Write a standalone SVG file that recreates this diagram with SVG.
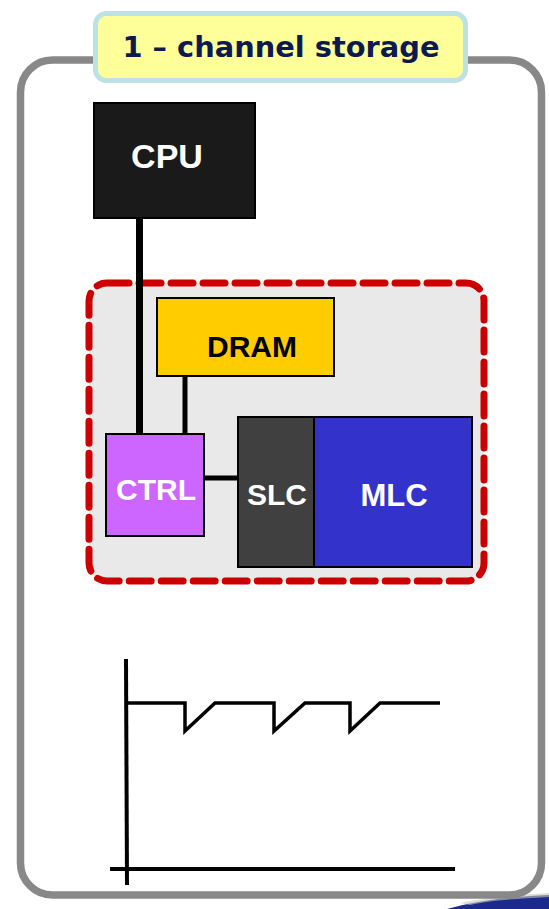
<svg xmlns="http://www.w3.org/2000/svg" width="549" height="909" viewBox="0 0 549 909">
<style>
.box{stroke:#000;stroke-width:2}
.lbl{font-family:"Liberation Sans",Arial,sans-serif;font-weight:bold;text-anchor:middle}
.wire{stroke:#000;fill:none;stroke-linecap:butt}
.plot{stroke:#000;fill:none;stroke-width:3.5;stroke-linejoin:miter}
</style>
<rect width="549" height="909" fill="#ffffff"/>
<path d="M447 909 C480 900 510 897 549 895 L549 909 Z" fill="#1c2a8e"/>
<path d="M460 903 C490 897 515 895 549 893 L549 897 C515 899 490 900 470 905 Z" fill="#c8c8b8" opacity="0.6"/>
<rect x="20.5" y="60" width="521" height="835" rx="32" fill="#ffffff" stroke="#888888" stroke-width="7.5"/>
<g id="title">
<rect x="95.5" y="13.5" width="370" height="67" rx="11" fill="#ffff99" stroke="#bde2e6" stroke-width="5"/>
<text x="281" y="57" font-family="DejaVu Sans,Verdana,sans-serif" font-weight="bold" font-size="29" fill="#0d1a4d" text-anchor="middle" textLength="317" lengthAdjust="spacingAndGlyphs">1 – channel storage</text>
</g>
<g id="storage">
<rect x="89" y="283" width="395" height="298" rx="18" fill="#e9e9e9" stroke="#cc0000" stroke-width="7" stroke-dasharray="22 10" stroke-linecap="round"/>
</g>
<g id="connectors">
<line class="wire" x1="139.5" y1="218" x2="139.5" y2="434" stroke-width="7"/>
<line class="wire" x1="185" y1="376" x2="185" y2="434" stroke-width="5"/>
<line class="wire" x1="204" y1="478" x2="238" y2="478" stroke-width="5"/>
</g>
<g id="cpu">
<rect x="94" y="103" width="161" height="115" fill="#1a1a1a" stroke="#000" stroke-width="2"/>
<text class="lbl" x="167" y="168" font-size="34" fill="#ffffff">CPU</text>
</g>
<g id="dram">
<rect class="box" x="157" y="298" width="177" height="78" fill="#ffcc00"/>
<text class="lbl" x="252" y="357" font-size="30" fill="#000000">DRAM</text>
</g>
<g id="ctrl">
<rect class="box" x="106" y="434" width="98" height="102" fill="#cc66ff"/>
<text class="lbl" x="156" y="500" font-size="30" fill="#ffffff">CTRL</text>
</g>
<g id="slc">
<rect class="box" x="238" y="417" width="76" height="150" fill="#404040"/>
<text class="lbl" x="277" y="505" font-size="30" fill="#ffffff">SLC</text>
</g>
<g id="mlc">
<rect class="box" x="314" y="417" width="158" height="150" fill="#3333cc"/>
<text class="lbl" x="394" y="506" font-size="31" fill="#ffffff">MLC</text>
</g>
<g id="graph">
<line class="wire" x1="126" y1="659" x2="127" y2="885" stroke-width="4"/>
<line class="wire" x1="110" y1="869" x2="455" y2="869" stroke-width="4"/>
<polyline class="plot" points="126,703 185,703 185,731 215,703 274,703 274,731 305,703 350,703 350,731 380,703 440,703"/>
</g>
</svg>
